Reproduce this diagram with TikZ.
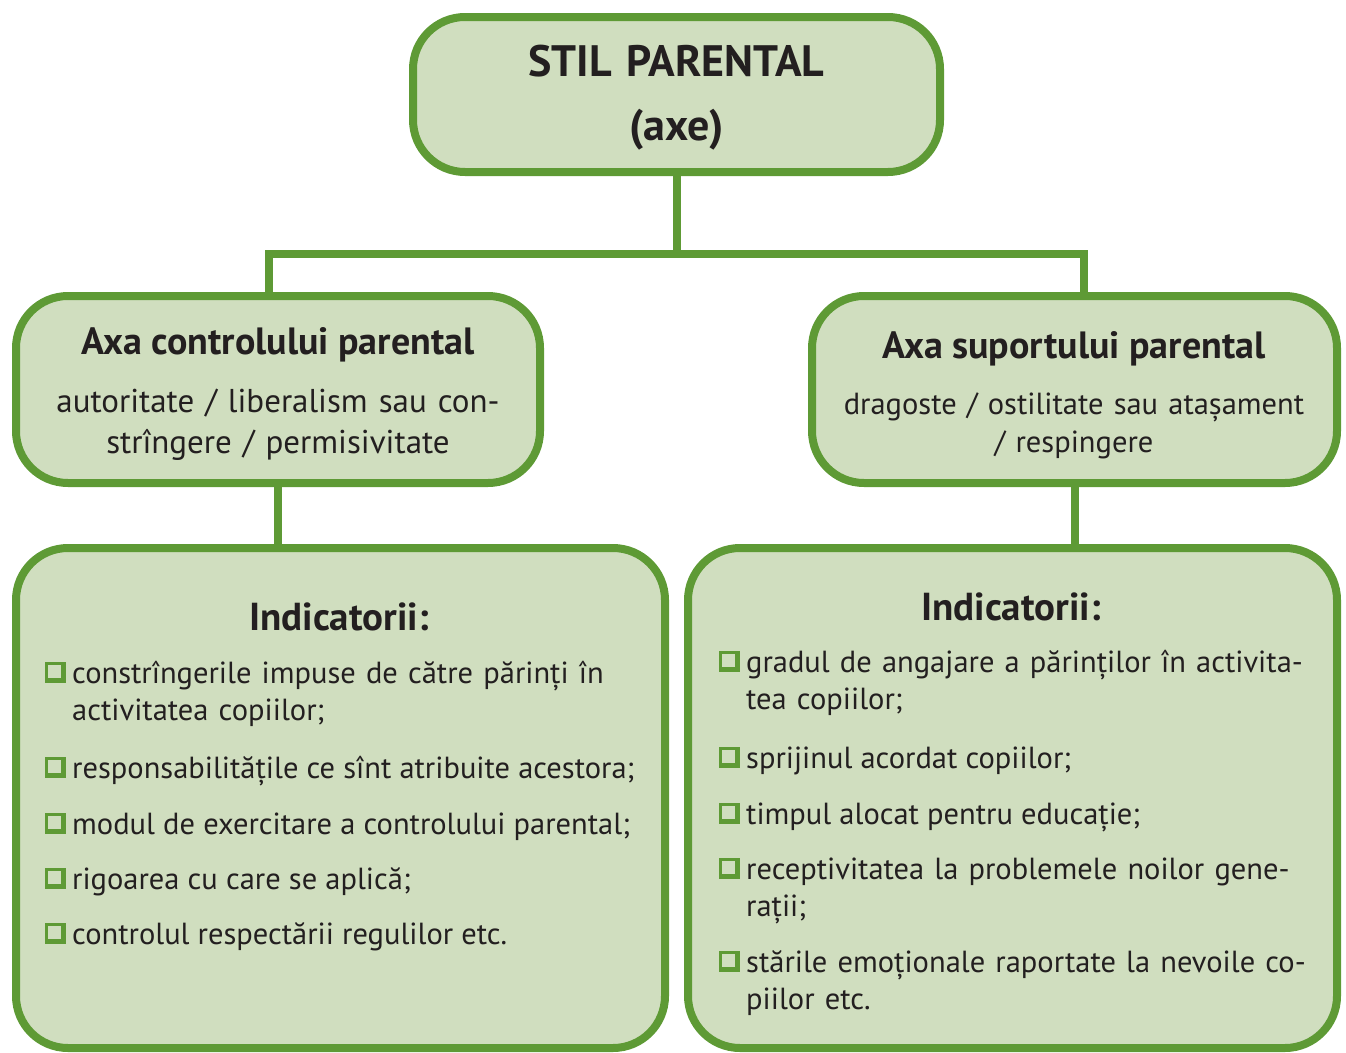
\documentclass[tikz,border=0pt]{standalone}
\usepackage{fontspec}
\setmainfont{PT Sans}
\definecolor{framegreen}{HTML}{5E9A35}
\definecolor{panelfill}{HTML}{D0DEBF}
\definecolor{inktext}{HTML}{231F20}
% square bullet with a drop shadow on its right and lower sides
\newcommand\sqbul{\tikz[x=1pt,y=1pt,baseline=0pt]{\fill[framegreen] (0,0) rectangle (21,21);\fill[panelfill] (2.5,5) rectangle (16,18.5);}}
\newcommand\itemmark{\llap{\sqbul\hspace{6pt}}}
\begin{document}
\begin{tikzpicture}[x=1pt,y=-1pt,
  panel/.style={draw=framegreen, fill=panelfill, line width=8pt, rounded corners=52pt, inner sep=0pt},
  link/.style={draw=framegreen, line width=8pt, line join=miter},
  headline/.style={font=\fontsize{44}{64}\selectfont\bfseries, text=inktext, anchor=base, align=center, text width=500pt, inner sep=0pt},
  axishead/.style={font=\fontsize{38}{44}\selectfont\bfseries, text=inktext, anchor=base},
  axisbody/.style={font=\fontsize{33}{41}\selectfont, text=inktext, anchor=base, align=center, text width=500pt, inner sep=0pt},
  indhead/.style={font=\fontsize{39}{44}\selectfont\bfseries, text=inktext, anchor=base},
  entry/.style={font=\fontsize{30.5}{37.5}\selectfont, text=inktext, anchor=base west, inner sep=0pt, align=left}
]
\useasboundingbox (0,0) rectangle (1346,1052);

% frames
\node[panel, minimum width=527pt, minimum height=155pt] (top) at (676.5,94.5) {};
\node[panel, minimum width=524pt, minimum height=187pt] (ctrl) at (278,389.5) {};
\node[panel, minimum width=525pt, minimum height=187pt] (supp) at (1074.5,389.5) {};
\node[panel, minimum width=649pt, minimum height=500pt] (ctrlind) at (340.5,798) {};
\node[panel, minimum width=649pt, minimum height=500pt] (suppind) at (1012.5,798) {};

% connectors
\coordinate (busL) at (269,254);
\coordinate (busR) at (1084,254);
\draw[link] (top.south) -- (top.south |- busL);
\draw[link] (busL |- ctrl.north) -- (busL) -- (busR) -- (busR |- supp.north);
\draw[link] (ctrl.south) -- (ctrl.south |- ctrlind.north);
\draw[link] (supp.south) -- (supp.south |- suppind.north);

% top frame
\node[headline] (toptxt) at (676.5,76) {STIL PARENTAL\\(axe)};

% axis frames
\node[axishead] (ctrlhead) at (278,354) {Axa controlului parental};
\node[axisbody] (ctrlbody) at (278,412) {autoritate / liberalism sau con-\\strîngere / permisivitate};
\node[axishead] (supphead) at (1074,358) {Axa suportului parental};
\node[axisbody, font=\fontsize{30.5}{38}\selectfont] (suppbody) at (1074,414) {dragoste / ostilitate sau atașament\\/ respingere};

% indicator lists, control axis
\node[indhead] (ctrlindhead) at (339,630) {Indicatorii:};
\node[entry, text width=564pt] (c1) at (72,683) {\itemmark\makebox[564pt][s]{constrîngerile impuse de către părinți în}\\activitatea copiilor;};
\node[entry] (c2) at (72,778) {\itemmark responsabilitățile ce sînt atribuite acestora;};
\node[entry] (c3) at (72,834) {\itemmark modul de exercitare a controlului parental;};
\node[entry] (c4) at (72,889) {\itemmark rigoarea cu care se aplică;};
\node[entry] (c5) at (72,944) {\itemmark controlul respectării regulilor etc.};

% indicator lists, support axis
\node[indhead] (suppindhead) at (1011,620) {Indicatorii:};
\node[entry, text width=562pt] (s1) at (746,672) {\itemmark\makebox[562pt][s]{gradul de angajare a părinților în activita-}\\tea copiilor;};
\node[entry] (s2) at (746,768) {\itemmark sprijinul acordat copiilor;};
\node[entry] (s3) at (746,824) {\itemmark timpul alocat pentru educație;};
\node[entry, text width=562pt] (s4) at (746,879) {\itemmark\makebox[562pt][s]{receptivitatea la problemele noilor gene-}\\rații;};
\node[entry, text width=562pt] (s5) at (746,972) {\itemmark\makebox[562pt][s]{stările emoționale raportate la nevoile co-}\\piilor etc.};
\end{tikzpicture}
\end{document}
